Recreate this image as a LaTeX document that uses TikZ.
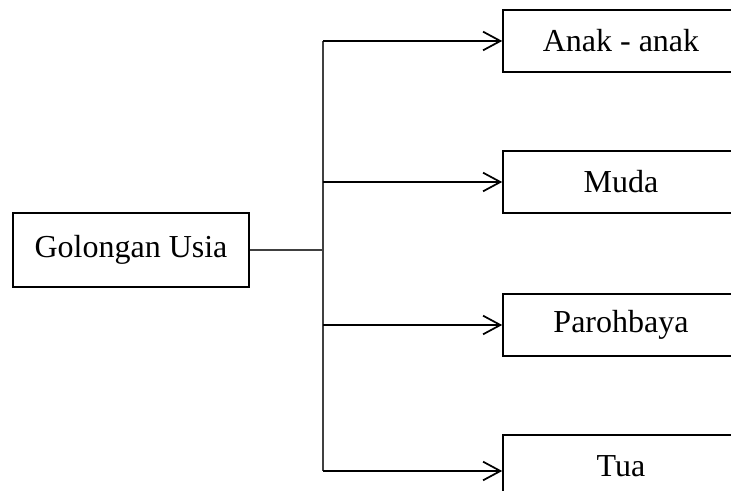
\documentclass[tikz,border=0pt]{standalone}
\usepackage{fontspec}
\setmainfont{Liberation Serif}
\usetikzlibrary{arrows.meta}

\tikzset{
  catbox/.style={draw=black, line width=1.2pt, fill=white, inner sep=0pt,
    minimum width=177pt, minimum height=46.5pt, font=\fontsize{24}{28}\selectfont},
  rootbox/.style={catbox, minimum height=55.5pt},
  branch/.style={draw=black, line width=1.2pt,
    -{Straight Barb[length=13pt, width=14pt, line width=1.3pt]}},
  trunk/.style={draw=black!75, line width=0.8pt}
}

\begin{document}
\begin{tikzpicture}[x=0.75pt, y=-0.75pt]
  \useasboundingbox (0,0) rectangle (731,491);
  \clip (0,0) rectangle (731,491);

  % root and categories
  \node[rootbox] (root) at (131,250) {Golongan Usia};
  \node[catbox] (anak) at (621,41)  {Anak - anak};
  \node[catbox] (muda) at (621,182) {Muda};
  \node[catbox] (paro) at (621,325) {Parohbaya};
  \node[catbox] (tua)  at (621,466) {Tua};

  % trunk points
  \coordinate (j)  at (323,250);
  \coordinate (t1) at (323,41);
  \coordinate (t2) at (323,182);
  \coordinate (t3) at (323,325);
  \coordinate (t4) at (323,471);

  \draw[trunk] (root.east) -- (j);
  \draw[trunk] (t1) -- (t4);

  % arrows into each category
  \draw[branch] (t1) -- (anak.west);
  \draw[branch] (t2) -- (muda.west);
  \draw[branch] (t3) -- (paro.west);
  \draw[branch] (t4) -- (t4 -| tua.west);
\end{tikzpicture}
\end{document}
